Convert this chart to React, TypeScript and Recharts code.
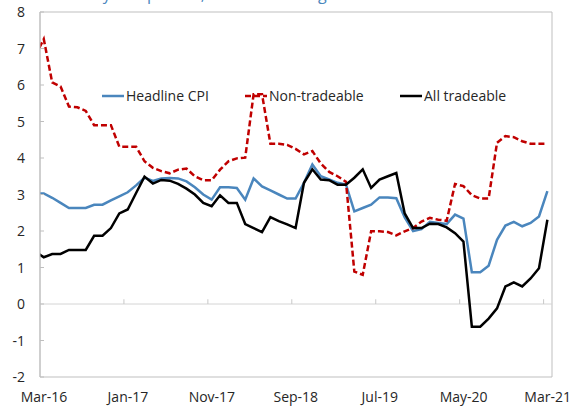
import { LineChart, Line, XAxis, YAxis, ReferenceLine, ReferenceArea } from "recharts";

// monthly, Feb-16 .. Mar-21 (Feb-16 sits just left of the axis and is clipped)
const monthIndex = [
  -1, 0, 1, 2, 3, 4, 5, 6, 7, 8, 9, 10, 11, 12, 13, 14, 15, 16, 17, 18, 19, 20,
  21, 22, 23, 24, 25, 26, 27, 28, 29, 30, 31, 32, 33, 34, 35, 36, 37, 38, 39, 40,
  41, 42, 43, 44, 45, 46, 47, 48, 49, 50, 51, 52, 53, 54, 55, 56, 57, 58, 59, 60,
];

const headlineCpi = [
  3.03, 3.03, 2.91, 2.77, 2.63, 2.63, 2.63, 2.72, 2.72, 2.84, 2.95, 3.06, 3.25, 3.46, 3.37, 3.44,
  3.45, 3.44, 3.36, 3.2, 3.0, 2.86, 3.2, 3.2, 3.18, 2.86, 3.44, 3.22, 3.11, 3.0, 2.89, 2.89,
  3.32, 3.82, 3.5, 3.41, 3.32, 3.27, 2.54, 2.63, 2.72, 2.92, 2.92, 2.9, 2.37, 2.0, 2.05, 2.25,
  2.22, 2.19, 2.45, 2.34, 0.87, 0.87, 1.05, 1.76, 2.15, 2.25, 2.13, 2.22, 2.4, 3.09,
];

const nonTradeable = [
  6.8, 7.26, 6.07, 5.96, 5.41, 5.39, 5.29, 4.9, 4.9, 4.9, 4.31, 4.31, 4.31, 3.91, 3.73, 3.64,
  3.58, 3.68, 3.71, 3.5, 3.39, 3.39, 3.68, 3.91, 3.99, 4.01, 5.75, 5.75, 4.39, 4.39, 4.36, 4.25,
  4.1, 4.19, 3.85, 3.62, 3.5, 3.35, 0.89, 0.8, 1.99, 1.99, 1.97, 1.88, 1.99, 2.08, 2.26, 2.36,
  2.31, 2.28, 3.29, 3.23, 2.98, 2.89, 2.89, 4.42, 4.6, 4.57, 4.46, 4.39, 4.39, 4.39,
];

const allTradeable = [
  1.44, 1.28, 1.37, 1.37, 1.48, 1.48, 1.48, 1.87, 1.87, 2.08, 2.48, 2.59, 3.04, 3.49, 3.3, 3.4,
  3.38, 3.29, 3.16, 3.0, 2.77, 2.68, 2.98, 2.77, 2.77, 2.19, 2.08, 1.97, 2.38, 2.27, 2.18, 2.08,
  3.32, 3.69, 3.41, 3.39, 3.27, 3.27, 3.46, 3.69, 3.18, 3.41, 3.5, 3.59, 2.48, 2.08, 2.08, 2.2,
  2.19, 2.1, 1.94, 1.71, -0.62, -0.62, -0.4, -0.12, 0.48, 0.59, 0.48, 0.7, 0.98, 2.31,
];

const tickMonths = [0, 10, 20, 30, 40, 50, 60];
const tickLabels = ["Mar-16", "Jan-17", "Nov-17", "Sep-18", "Jul-19", "May-20", "Mar-21"];
const yTicks = [-2, -1, 0, 1, 2, 3, 4, 5, 6, 7, 8];

// points are dated mid-month
const data = monthIndex.map((m, i) => ({
  t: m + 0.45,
  headline: headlineCpi[i],
  nonTradeable: nonTradeable[i],
  allTradeable: allTradeable[i],
}));

const FONT = "'Open Sans', sans-serif";
const TEXT = "#262626";
const BLUE = "#4a86bd";
const RED = "#c00000";

const YTick = ({ x, y, payload }: any) => (
  <g>
    <line x1={x} x2={x + 4} y1={y} y2={y} stroke="#bfbfbf" />
    <text x={x - 15} y={y} dy={5} textAnchor="end" fontSize={14} fill={TEXT} fontFamily={FONT}>
      {payload.value}
    </text>
  </g>
);

const XTick = ({ x, y, payload }: any) => (
  <text x={x + 4} y={y} dy={25} textAnchor="middle" fontSize={14} fill={TEXT} fontFamily={FONT}>
    {tickLabels[tickMonths.indexOf(payload.value)]}
  </text>
);

function LegendOverlay() {
  const items = [
    { label: "Headline CPI", color: BLUE, dash: undefined, x: 102 },
    { label: "Non-tradeable", color: RED, dash: "6 3", x: 245 },
    { label: "All tradeable", color: "#000", dash: undefined, x: 400 },
  ];
  return (
    <svg width={570} height={407} style={{ position: "absolute", left: 0, top: 0, pointerEvents: "none" }}>
      {items.map((it) => (
        <g key={it.label}>
          <line x1={it.x} x2={it.x + 22} y1={96} y2={96} stroke={it.color} strokeWidth={2.5} strokeDasharray={it.dash} />
          <text x={it.x + 24} y={101} fontSize={14} fill={TEXT} fontFamily={FONT}>
            {it.label}
          </text>
        </g>
      ))}
    </svg>
  );
}

export default function App() {
  return (
    <div style={{ position: "absolute", left: 0, top: 0, width: 570, height: 407, background: "#fff", overflow: "hidden" }}>
      <div
        style={{
          position: "absolute",
          left: 27,
          top: -14,
          fontFamily: FONT,
          fontSize: 16,
          lineHeight: "16px",
          color: BLUE,
          whiteSpace: "nowrap",
        }}
      >
        Inflation by component, annual % change
      </div>
      <LineChart width={570} height={407} data={data} margin={{ top: 12, right: 18, left: 0, bottom: 0 }}>
        <ReferenceArea x1={0} x2={61} y1={-2} y2={8} fill="none" stroke="#bfbfbf" />
        <ReferenceLine y={0} stroke="#d4d4d4" />
        {tickMonths.slice(1).map((m) => (
          <ReferenceLine
            key={m}
            segment={[
              { x: m, y: 0 },
              { x: m, y: 0.13 },
            ]}
            stroke="#c8c8c8"
          />
        ))}
        <XAxis
          dataKey="t"
          type="number"
          domain={[0, 61]}
          ticks={tickMonths}
          allowDataOverflow
          axisLine={false}
          tickLine={false}
          tickSize={0}
          tickMargin={0}
          height={30}
          tick={<XTick />}
          interval={0}
        />
        <YAxis
          type="number"
          domain={[-2, 8]}
          ticks={yTicks}
          width={40}
          axisLine={{ stroke: "#bfbfbf" }}
          tickLine={false}
          tickSize={0}
          tickMargin={0}
          tick={<YTick />}
          interval={0}
        />
        <Line
          dataKey="headline"
          stroke={BLUE}
          strokeWidth={2.5}
          dot={false}
          type="linear"
          isAnimationActive={false}
        />
        <Line
          dataKey="nonTradeable"
          stroke={RED}
          strokeWidth={2.5}
          strokeDasharray="6 3"
          dot={false}
          type="linear"
          isAnimationActive={false}
        />
        <Line
          dataKey="allTradeable"
          stroke="#000"
          strokeWidth={2.5}
          dot={false}
          type="linear"
          isAnimationActive={false}
        />
      </LineChart>
      <LegendOverlay />
    </div>
  );
}
